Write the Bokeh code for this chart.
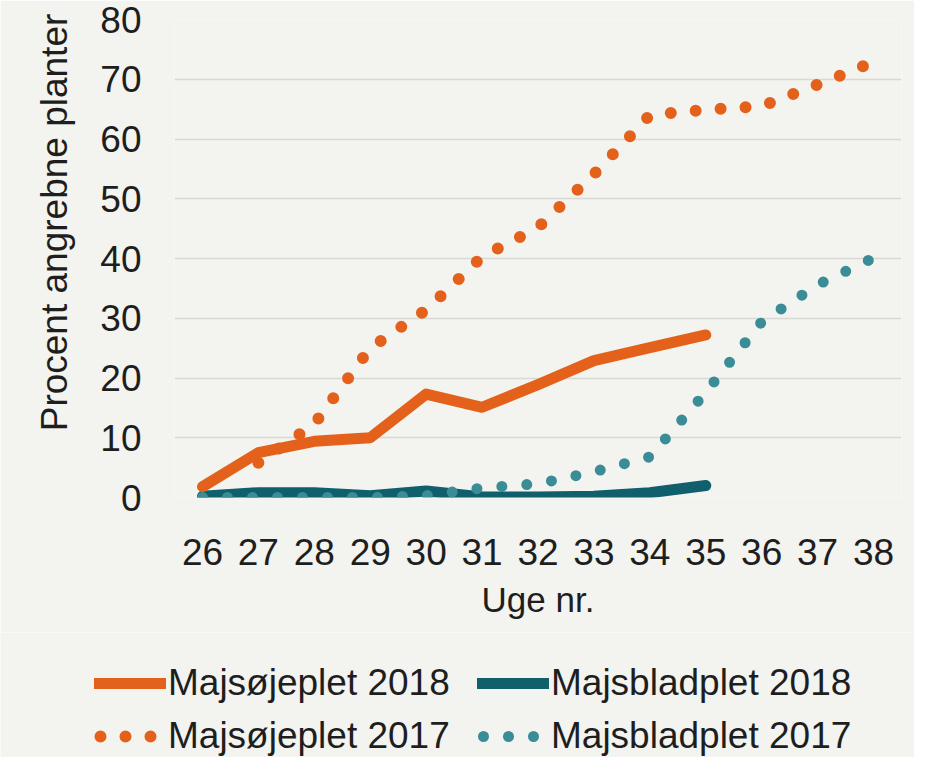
from bokeh.plotting import figure
from bokeh.models import Range1d, FixedTicker, Legend, LegendItem
from bokeh.layouts import column
from bokeh.embed import file_html
from bokeh.resources import INLINE

# ---- data ----
week_ticks = [26, 27, 28, 29, 30, 31, 32, 33, 34, 35, 36, 37, 38]
y_ticks = [0, 10, 20, 30, 40, 50, 60, 70, 80]

weeks_2018 = [26, 27, 28, 29, 30, 31, 32, 33, 34, 35]
majsoje_2018 = [1.8, 7.5, 9.4, 10.0, 17.3, 15.1, 18.9, 22.9, 25.1, 27.2]
majsblad_2018 = [0.2, 0.8, 0.8, 0.3, 1.1, 0.1, 0.1, 0.2, 0.8, 2.0]

weeks_oje_2017 = [27, 28, 29, 30, 31, 32, 33, 34, 35, 36, 37, 38]
majsoje_2017 = [5.8, 12.3, 25.0, 31.4, 40.3, 45.2, 54.1, 64.0, 64.9, 65.5, 69.1, 72.9]

weeks_blad_2017 = [26, 27, 28, 29, 30, 31, 32, 33, 34, 35, 36, 37, 38]
majsblad_2017 = [0.0, 0.0, 0.0, 0.0, 0.3, 1.6, 2.3, 4.3, 6.8, 17.6, 29.4, 35.6, 40.1]

labels = ["Majsøjeplet 2018", "Majsbladplet 2018", "Majsøjeplet 2017", "Majsbladplet 2017"]
x_title = "Uge nr."
y_title = "Procent angrebne planter"

ORANGE = "#e4611c"
TEAL = "#0f5f6c"
TEAL_LIGHT = "#3a8c96"
BG = "#f3f3ef"
TXT = "#1e1e1e"
FONT = "Liberation Sans"

series = [
    (weeks_2018, majsoje_2018,
     dict(line_color=ORANGE, line_width=11, line_cap="round", line_join="round")),
    (weeks_2018, majsblad_2018,
     dict(line_color=TEAL, line_width=11, line_cap="round", line_join="round")),
    (weeks_oje_2017, majsoje_2017,
     dict(line_color=ORANGE, line_width=12, line_dash="0 25", line_cap="round", line_join="round")),
    (weeks_blad_2017, majsblad_2017,
     dict(line_color=TEAL_LIGHT, line_width=11, line_dash="0 25", line_cap="round", line_join="round")),
]

# ---------------- main chart ----------------
p = figure(
    frame_width=727, frame_height=478,
    min_border_left=174, min_border_right=13, min_border_top=19, min_border_bottom=135,
    x_range=Range1d(25.5, 38.5), y_range=Range1d(0, 80),
    output_backend="svg", toolbar_location=None,
    background_fill_color=BG, border_fill_color=BG, outline_line_color=None,
)

p.xaxis.ticker = FixedTicker(ticks=week_ticks)
p.yaxis.ticker = FixedTicker(ticks=y_ticks)
for ax in (p.xaxis[0], p.yaxis[0]):
    ax.axis_line_color = None
    ax.major_tick_line_color = None
    ax.minor_tick_line_color = None
    ax.major_label_text_font = FONT
    ax.major_label_text_font_size = "37px"
    ax.major_label_text_color = TXT
    ax.axis_label_text_font = FONT
    ax.axis_label_text_font_style = "normal"
    ax.axis_label_text_color = TXT
p.xaxis.major_label_standoff = 35
p.yaxis.major_label_standoff = 27
p.xaxis.axis_label = x_title
p.xaxis.axis_label_text_font_size = "35px"
p.xaxis.axis_label_standoff = 12

# y title: shifted toward the bottom like in the reference (padding at its start)
p.yaxis.axis_label = "\u00a0" * 7 + y_title
p.yaxis.axis_label_text_font_size = "37px"
p.yaxis.axis_label_standoff = 22

p.xgrid.visible = False
p.ygrid.grid_line_color = "#d8d8d4"
p.ygrid.grid_line_width = 1.5

# drawing order: teal solid, teal dots, orange dots, orange solid on top
for idx in (1, 3, 2, 0):
    xs, ys, st = series[idx]
    p.line(xs, ys, **st)

# ---------------- legend strip (same series, kept outside its view) ----------------
lg = figure(
    width=914, height=125,
    min_border_left=0, min_border_right=0, min_border_top=0, min_border_bottom=0,
    x_range=Range1d(0, 1), y_range=Range1d(0, 1),
    x_axis_location=None, y_axis_location=None,
    output_backend="svg", toolbar_location=None,
    background_fill_color=BG, border_fill_color=BG, outline_line_color=None,
)
lg.grid.visible = False
rend = []
for xs, ys, st in series:
    kw = dict(st)
    if "line_dash" in kw:
        kw["line_dash_offset"] = 19   # first legend dot fully inside the glyph box
    rend.append(lg.line(xs, ys, **kw))

# do not align the strip's frame with the chart's frame
for f in (p, lg):
    if "frame_align" in f.properties():
        f.frame_align = False

# Bokeh fills legend columns first: order so rows read 2018 / 2017
order = [0, 2, 1, 3]
legend = Legend(
    items=[LegendItem(label=labels[i], renderers=[rend[i]]) for i in order],
    ncols=2,
    location=(94, 0),
    border_line_color=None, background_fill_alpha=0,
    padding=0, margin=0, spacing=11,
    glyph_width=72, glyph_height=40, label_height=40, label_width=298,
    label_standoff=2,
    label_text_font=FONT, label_text_font_size="37px", label_text_color=TXT,
)
lg.add_layout(legend)

layout = column(p, lg, spacing=0)
open("out.html", "w").write(file_html(layout, INLINE))
